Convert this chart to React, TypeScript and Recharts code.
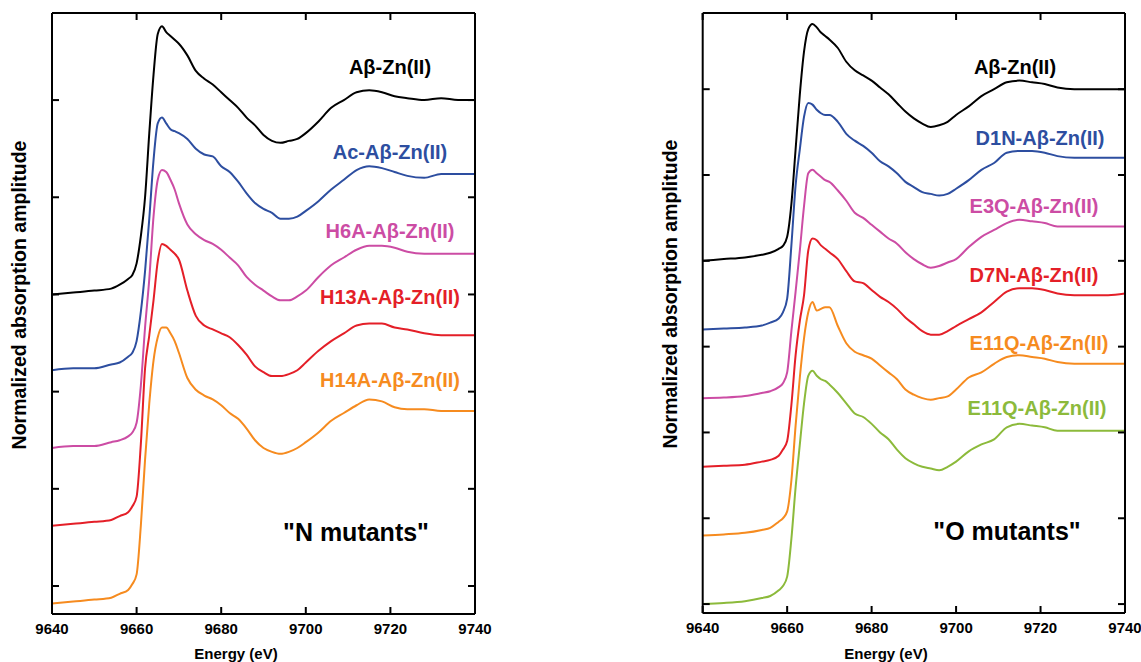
import { LineChart, Line, XAxis, YAxis } from 'recharts';

// energy grid (eV) shared by every spectrum
const ENERGY = [
  9640, 9645, 9650, 9654, 9656, 9658, 9659, 9660, 9661, 9662, 9663, 9664, 9665, 9666, 9667,
  9668, 9669, 9670, 9672, 9674, 9676, 9678, 9680, 9682, 9684, 9686, 9688, 9690, 9692, 9694,
  9696, 9698, 9700, 9703, 9706, 9709, 9712, 9715, 9718, 9721, 9724, 9728, 9732, 9736, 9740,
];

const X_TICKS = [9640, 9660, 9680, 9700, 9720, 9740];

// "N mutants" panel, normalized absorption (pre-edge = 0, post-edge = 1)
const N_WT = [0, 0.01, 0.02, 0.03, 0.05, 0.08, 0.1, 0.16, 0.3, 0.5, 0.83, 1.13, 1.34, 1.38, 1.35, 1.33, 1.31, 1.29, 1.23, 1.15, 1.11, 1.08, 1.04, 1.0, 0.96, 0.91, 0.87, 0.82, 0.79, 0.78, 0.79, 0.8, 0.83, 0.89, 0.96, 1.0, 1.04, 1.05, 1.04, 1.02, 1.01, 1.0, 1.01, 1.0, 1.0];
const N_AC = [0, 0.01, 0.01, 0.03, 0.04, 0.07, 0.09, 0.15, 0.3, 0.51, 0.78, 1.08, 1.27, 1.3, 1.27, 1.24, 1.23, 1.22, 1.19, 1.14, 1.11, 1.1, 1.05, 1.02, 0.97, 0.91, 0.86, 0.83, 0.81, 0.78, 0.78, 0.79, 0.82, 0.87, 0.93, 0.98, 1.03, 1.05, 1.04, 1.02, 1.0, 0.99, 1.01, 1.01, 1.01];
const N_H6A = [0, 0.01, 0.01, 0.03, 0.04, 0.06, 0.08, 0.13, 0.32, 0.62, 0.87, 1.19, 1.38, 1.43, 1.42, 1.38, 1.33, 1.26, 1.15, 1.1, 1.07, 1.05, 1.02, 0.98, 0.94, 0.88, 0.84, 0.81, 0.78, 0.76, 0.76, 0.78, 0.81, 0.88, 0.94, 0.98, 1.02, 1.04, 1.04, 1.03, 1.01, 1.0, 1.0, 1.0, 1.0];
const N_H13A = [0, 0.01, 0.02, 0.03, 0.05, 0.07, 0.1, 0.15, 0.42, 0.81, 0.98, 1.16, 1.36, 1.45, 1.44, 1.42, 1.4, 1.37, 1.21, 1.08, 1.03, 1.01, 0.99, 0.97, 0.93, 0.88, 0.82, 0.79, 0.77, 0.77, 0.78, 0.8, 0.84, 0.9, 0.95, 0.99, 1.03, 1.04, 1.04, 1.02, 1.01, 0.99, 0.98, 0.98, 0.98];
const N_H14A = [0, 0.01, 0.02, 0.03, 0.05, 0.07, 0.1, 0.15, 0.4, 0.74, 1.03, 1.25, 1.37, 1.42, 1.42, 1.39, 1.35, 1.29, 1.16, 1.1, 1.07, 1.05, 1.02, 0.98, 0.95, 0.9, 0.84, 0.8, 0.78, 0.77, 0.78, 0.8, 0.83, 0.88, 0.94, 0.98, 1.02, 1.05, 1.04, 1.01, 1.0, 1.0, 0.99, 0.99, 0.99];
const N_OFFSETS = [1.5, 1.11, 0.71, 0.31, -0.09];

// "O mutants" panel
const O_WT = [0, 0.01, 0.02, 0.035, 0.047, 0.07, 0.087, 0.14, 0.33, 0.65, 0.97, 1.22, 1.35, 1.38, 1.36, 1.33, 1.31, 1.29, 1.24, 1.16, 1.11, 1.08, 1.05, 1.01, 0.97, 0.92, 0.87, 0.83, 0.8, 0.78, 0.79, 0.81, 0.85, 0.9, 0.96, 1.0, 1.04, 1.05, 1.04, 1.03, 1.01, 1.0, 1.0, 1.0, 1.0];
const O_D1N = [0, 0.006, 0.012, 0.023, 0.04, 0.064, 0.1, 0.18, 0.49, 0.84, 1.05, 1.24, 1.32, 1.31, 1.28, 1.26, 1.25, 1.25, 1.21, 1.14, 1.1, 1.07, 1.03, 0.98, 0.95, 0.91, 0.86, 0.83, 0.8, 0.79, 0.78, 0.79, 0.82, 0.87, 0.93, 0.97, 1.03, 1.04, 1.04, 1.03, 1.01, 1.0, 1.0, 1.0, 1.0];
const O_E3Q = [0, 0.003, 0.012, 0.03, 0.04, 0.064, 0.087, 0.15, 0.39, 0.62, 0.86, 1.12, 1.31, 1.33, 1.31, 1.29, 1.27, 1.26, 1.21, 1.15, 1.08, 1.05, 1.01, 0.97, 0.93, 0.9, 0.85, 0.81, 0.78, 0.76, 0.77, 0.79, 0.81, 0.88, 0.94, 0.98, 1.02, 1.04, 1.03, 1.02, 1.0, 1.0, 1.0, 1.0, 1.0];
const O_D7N = [0, 0.006, 0.012, 0.03, 0.04, 0.064, 0.1, 0.15, 0.36, 0.65, 0.85, 1.0, 1.26, 1.33, 1.32, 1.29, 1.27, 1.25, 1.21, 1.14, 1.08, 1.07, 1.03, 0.99, 0.96, 0.92, 0.87, 0.83, 0.79, 0.77, 0.77, 0.79, 0.82, 0.86, 0.9, 0.96, 1.02, 1.04, 1.04, 1.03, 1.01, 1.0, 1.0, 1.0, 1.01];
const O_E11Q_A = [0, 0.006, 0.015, 0.032, 0.044, 0.08, 0.1, 0.14, 0.32, 0.64, 0.92, 1.15, 1.3, 1.36, 1.31, 1.32, 1.33, 1.33, 1.22, 1.12, 1.07, 1.05, 1.03, 0.99, 0.95, 0.91, 0.85, 0.82, 0.8, 0.79, 0.8, 0.81, 0.85, 0.92, 0.95, 1.0, 1.04, 1.05, 1.04, 1.03, 1.01, 1.0, 1.0, 1.0, 1.0];
const O_E11Q_B = [0, 0.006, 0.017, 0.035, 0.047, 0.08, 0.105, 0.16, 0.38, 0.68, 0.93, 1.17, 1.33, 1.36, 1.33, 1.31, 1.3, 1.28, 1.23, 1.17, 1.11, 1.09, 1.05, 1.0, 0.96, 0.9, 0.85, 0.82, 0.8, 0.79, 0.78, 0.8, 0.83, 0.89, 0.93, 0.96, 1.03, 1.05, 1.04, 1.03, 1.01, 1.01, 1.01, 1.01, 1.01];
const O_OFFSETS = [2.0, 1.6, 1.2, 0.8, 0.4, 0];

const BLACK = '#000000';
const BLUE = '#2d4ea0';
const MAGENTA = '#cc4ca4';
const RED = '#e41f28';
const ORANGE = '#f68b1f';
const GREEN = '#8cba3b';

const N_SERIES = [
  { key: 'wt', name: 'Aβ-Zn(II)', color: BLACK, mu: N_WT },
  { key: 'ac', name: 'Ac-Aβ-Zn(II)', color: BLUE, mu: N_AC },
  { key: 'h6a', name: 'H6A-Aβ-Zn(II)', color: MAGENTA, mu: N_H6A },
  { key: 'h13a', name: 'H13A-Aβ-Zn(II)', color: RED, mu: N_H13A },
  { key: 'h14a', name: 'H14A-Aβ-Zn(II)', color: ORANGE, mu: N_H14A },
];

const O_SERIES = [
  { key: 'wt', name: 'Aβ-Zn(II)', color: BLACK, mu: O_WT },
  { key: 'd1n', name: 'D1N-Aβ-Zn(II)', color: BLUE, mu: O_D1N },
  { key: 'e3q', name: 'E3Q-Aβ-Zn(II)', color: MAGENTA, mu: O_E3Q },
  { key: 'd7n', name: 'D7N-Aβ-Zn(II)', color: RED, mu: O_D7N },
  { key: 'e11qa', name: 'E11Q-Aβ-Zn(II)', color: ORANGE, mu: O_E11Q_A },
  { key: 'e11qb', name: 'E11Q-Aβ-Zn(II)', color: GREEN, mu: O_E11Q_B },
];

type Series = { key: string; name: string; color: string; mu: number[] };

const buildRows = (series: Series[], offsets: number[]) =>
  ENERGY.map((e, i) => {
    const row: Record<string, number> = { e };
    series.forEach((s, j) => {
      row[s.key] = +(s.mu[i] + offsets[j]).toFixed(3);
    });
    return row;
  });

const FONT = '"Liberation Sans", Arial, Helvetica, sans-serif';
const noLabel = () => <g />;

type PanelProps = {
  series: Series[];
  offsets: number[];
  left: number;
  width: number;
  margin: { top: number; right: number; bottom: number; left: number };
  yDomain: [number, number];
  yTicks: number[];
};

// frame + inward ticks come from mirrored axes, labels from a plain bottom axis
const Panel = ({ series, offsets, left, width, margin, yDomain, yTicks }: PanelProps) => {
  const data = buildRows(series, offsets);
  const frame = { stroke: '#000', strokeWidth: 2 };
  return (
    <div style={{ position: 'absolute', left, top: 0 }}>
      <LineChart width={width} height={662} data={data} margin={margin}>
        <XAxis
          xAxisId="b"
          dataKey="e"
          type="number"
          domain={[9640, 9740]}
          ticks={X_TICKS}
          interval={0}
          allowDataOverflow
          height={1}
          tickSize={0}
          tickMargin={9}
          tickLine={false}
          {...frame}
          tick={{ fontSize: 15, fontWeight: 700, fill: '#000', fontFamily: FONT }}
        />
        <XAxis
          xAxisId="bm"
          dataKey="e"
          type="number"
          domain={[9640, 9740]}
          ticks={X_TICKS}
          interval={0}
          allowDataOverflow
          mirror
          height={10}
          tickSize={7}
          {...frame}
          tick={noLabel}
        />
        <XAxis
          xAxisId="t"
          orientation="top"
          dataKey="e"
          type="number"
          domain={[9640, 9740]}
          ticks={X_TICKS}
          interval={0}
          allowDataOverflow
          mirror
          height={10}
          tickSize={7}
          {...frame}
          tick={noLabel}
        />
        <YAxis
          yAxisId="l"
          type="number"
          domain={yDomain}
          ticks={yTicks}
          interval={0}
          allowDataOverflow
          mirror
          width={10}
          tickSize={7}
          {...frame}
          tick={noLabel}
        />
        <YAxis
          yAxisId="r"
          orientation="right"
          type="number"
          domain={yDomain}
          ticks={yTicks}
          interval={0}
          allowDataOverflow
          mirror
          width={10}
          tickSize={7}
          {...frame}
          tick={noLabel}
        />
        {series.map((s) => (
          <Line
            key={s.key}
            xAxisId="b"
            yAxisId="l"
            type="monotone"
            dataKey={s.key}
            name={s.name}
            stroke={s.color}
            strokeWidth={2}
            dot={false}
            activeDot={false}
            isAnimationActive={false}
          />
        ))}
      </LineChart>
    </div>
  );
};

// label placement (text centre x, baseline y) for each curve label
const N_LABEL_POS = [
  [390, 74],
  [390, 159],
  [390, 238],
  [390, 304],
  [390, 387],
];
const O_LABEL_POS = [
  [1015, 74],
  [1040, 145],
  [1034, 213],
  [1034, 282],
  [1039, 350],
  [1037, 415],
];

const App = () => (
  <div style={{ position: 'absolute', left: 0, top: 0, width: 1141, height: 662, background: '#fff', fontFamily: FONT, overflow: 'hidden' }}>
    <Panel
      series={N_SERIES}
      offsets={N_OFFSETS}
      left={0}
      width={520}
      margin={{ top: 13, right: 45, bottom: 47, left: 52 }}
      yDomain={[-0.144, 2.948]}
      yTicks={[0, 0.5, 1, 1.5, 2, 2.5]}
    />
    <Panel
      series={O_SERIES}
      offsets={O_OFFSETS}
      left={650}
      width={491}
      margin={{ top: 13, right: 16, bottom: 48, left: 52.7 }}
      yDomain={[-0.052, 3.444]}
      yTicks={[0, 0.5, 1, 1.5, 2, 2.5, 3]}
    />
    <svg width={1141} height={662} style={{ position: 'absolute', left: 0, top: 0, pointerEvents: 'none' }}>
      <g fontFamily={FONT} fontWeight={700}>
        {N_SERIES.map((s, i) => (
          <text key={`n${i}`} x={N_LABEL_POS[i][0]} y={N_LABEL_POS[i][1]} textAnchor="middle" fontSize={20} fill={s.color}>
            {s.name}
          </text>
        ))}
        {O_SERIES.map((s, i) => (
          <text key={`o${i}`} x={O_LABEL_POS[i][0]} y={O_LABEL_POS[i][1]} textAnchor="middle" fontSize={20} fill={s.color}>
            {s.name}
          </text>
        ))}
        <text x={356} y={541} textAnchor="middle" fontSize={25} fill="#000">"N mutants"</text>
        <text x={1007} y={540} textAnchor="middle" fontSize={25} fill="#000">"O mutants"</text>
        <text x={236} y={659} textAnchor="middle" fontSize={15} fill="#000">Energy (eV)</text>
        <text x={886} y={659} textAnchor="middle" fontSize={15} fill="#000">Energy (eV)</text>
        <text transform="translate(26, 295) rotate(-90)" textAnchor="middle" fontSize={19.5} fill="#000">
          Normalized absorption amplitude
        </text>
        <text transform="translate(677, 294) rotate(-90)" textAnchor="middle" fontSize={19.5} fill="#000">
          Normalized absorption amplitude
        </text>
      </g>
    </svg>
  </div>
);

export default App;
